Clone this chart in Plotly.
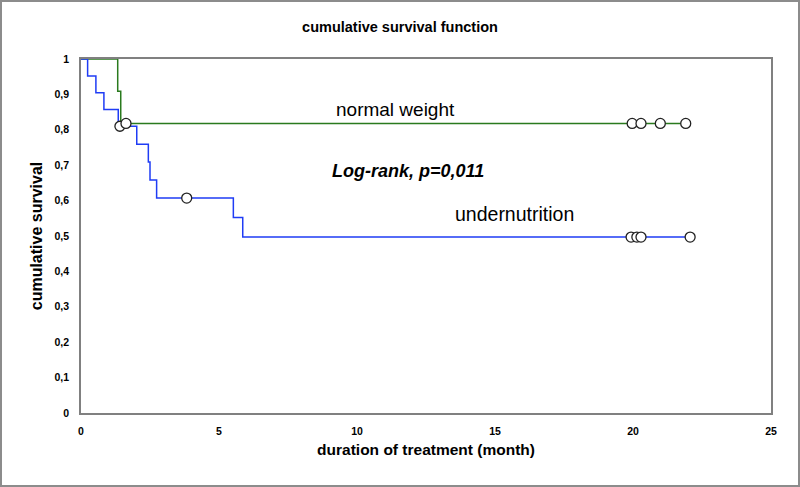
import plotly.graph_objects as go

# Undernutrition (blue) Kaplan-Meier steps
blue_times = [0, 0.24, 0.54, 0.83, 1.35, 2.02, 2.44, 2.50, 2.74, 5.52, 5.86, 22.07]
blue_surv = [1, 0.952, 0.905, 0.857, 0.810, 0.759, 0.709, 0.658, 0.607, 0.552, 0.497, 0.497]
blue_cens_x = [1.41, 3.83, 19.93, 20.14, 20.29, 22.07]
blue_cens_y = [0.810, 0.607, 0.497, 0.497, 0.497, 0.497]

# Normal weight (green)
green_times = [0, 1.33, 1.44, 21.91]
green_surv = [1, 0.909, 0.818, 0.818]
green_cens_x = [1.63, 19.97, 20.29, 20.99, 21.91]
green_cens_y = [0.818, 0.818, 0.818, 0.818, 0.818]

y_ticks = [0, 0.1, 0.2, 0.3, 0.4, 0.5, 0.6, 0.7, 0.8, 0.9, 1]
y_labels = ["<b>0</b>", "<b>0,1</b>", "<b>0,2</b>", "<b>0,3</b>", "<b>0,4</b>", "<b>0,5</b>",
            "<b>0,6</b>", "<b>0,7</b>", "<b>0,8</b>", "<b>0,9</b>", "<b>1</b>"]
x_ticks = [0, 5, 10, 15, 20, 25]
x_labels = ["<b>0</b>", "<b>5</b>", "<b>10</b>", "<b>15</b>", "<b>20</b>", "<b>25</b>"]

FONT = "Liberation Sans, Arial, sans-serif"
BLUE = "#1f3cf5"
GREEN = "#2a7a1e"

fig = go.Figure()
fig.add_trace(go.Scatter(x=green_times, y=green_surv, mode="lines", line_shape="hv",
                         line=dict(color=GREEN, width=1.5), showlegend=False))
fig.add_trace(go.Scatter(x=blue_times, y=blue_surv, mode="lines", line_shape="hv",
                         line=dict(color=BLUE, width=1.5), showlegend=False))
fig.add_trace(go.Scatter(x=blue_cens_x, y=blue_cens_y, mode="markers",
                         marker=dict(symbol="circle", size=10, color="white",
                                     line=dict(color="#222", width=1.3)), showlegend=False))
fig.add_trace(go.Scatter(x=green_cens_x, y=green_cens_y, mode="markers",
                         marker=dict(symbol="circle", size=10, color="white",
                                     line=dict(color="#222", width=1.3)), showlegend=False))

W, H = 800, 487
l, r, t, b = 81, 29, 59, 74
pw, ph = W - l - r, H - t - b

fig.update_layout(
    width=W, height=H,
    margin=dict(l=l, r=r, t=t, b=b),
    paper_bgcolor="white", plot_bgcolor="white",
    font=dict(family=FONT, color="black"),
    title=dict(text="<b>cumulative survival function</b>", x=0.5, xanchor="center",
               y=1 - 27 / H, yanchor="middle", font=dict(size=14.5, family=FONT)),
    xaxis=dict(range=[0, 25], tickvals=x_ticks, ticktext=x_labels, showgrid=False,
               zeroline=False, showline=True, linecolor="#808080", linewidth=1.5,
               mirror=True, ticks="", tickfont=dict(size=10.5), ticklabelstandoff=8,
               title=dict(text="<b>duration of treatment (month)</b>",
                          font=dict(size=15.5), standoff=8)),
    yaxis=dict(range=[0, 1], tickvals=y_ticks, ticktext=y_labels, showgrid=False,
               zeroline=False, showline=True, linecolor="#808080", linewidth=1.5,
               mirror=True, ticks="", tickfont=dict(size=10.5), ticklabelstandoff=8,
               title=dict(text="<b>cumulative survival</b>", font=dict(size=16),
                          standoff=8)),
)

fig.add_annotation(x=11.41, y=0.856, text="normal weight", showarrow=False,
                   font=dict(size=19, family=FONT), xanchor="center", yanchor="middle")
fig.add_annotation(x=11.85, y=0.683, text="<b><i>Log-rank, p=0,011</i></b>", showarrow=False,
                   font=dict(size=18, family=FONT), xanchor="center", yanchor="middle")
fig.add_annotation(x=15.7, y=0.561, text="undernutrition", showarrow=False,
                   font=dict(size=19.5, family=FONT), xanchor="center", yanchor="middle")

# outer frame of the image
fig.add_shape(type="rect", xref="paper", yref="paper",
              x0=(1 - l) / pw, x1=(W - 1 - l) / pw,
              y0=-(H - 1 - t - ph) / ph, y1=1 + (t - 1) / ph,
              line=dict(color="#8c8c8c", width=2), fillcolor="rgba(0,0,0,0)")

fig.write_html("out.html", config={"displayModeBar": False},
               post_script="document.body.style.margin='0';")
